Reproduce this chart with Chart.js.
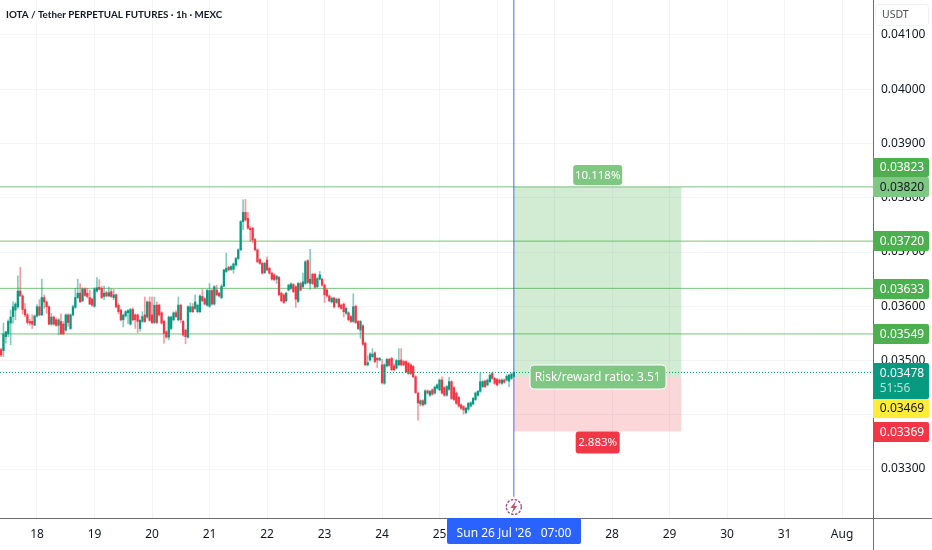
<!DOCTYPE html>
<html>
<head>
<meta charset="utf-8">
<title>IOTA / Tether</title>
<script src="https://cdn.jsdelivr.net/npm/chart.js@4/dist/chart.umd.min.js"></script>
<style>
  html, body { margin: 0; padding: 0; background: #fff; overflow: hidden; }
  canvas { display: block; filter: blur(0.3px); }
</style>
</head>
<body>
<canvas id="chart" width="932" height="550"></canvas>
<script>
// ── Data ──
// hours are counted from 18 Jul 00:00; the first candle sits at hour -15
const firstHour = -15;

const opens = [
  .03520,.03518,.03544,.03549,.03569,.03581,.03593,.03599,.03628,.03619,
  .03594,.03584,.03572,.03572,.03565,.03582,.03599,.03584,.03616,.03608,
  .03599,.03567,.03580,.03575,.03565,.03572,.03567,.03556,.03584,.03559,
  .03584,.03598,.03616,.03624,.03610,.03632,.03624,.03616,.03613,.03600,
  .03628,.03635,.03633,.03618,.03625,.03619,.03627,.03616,.03621,.03602,
  .03593,.03575,.03582,.03588,.03567,.03594,.03584,.03584,.03559,.03572,
  .03584,.03580,.03608,.03584,.03570,.03602,.03602,.03588,.03572,.03553,
  .03543,.03559,.03575,.03588,.03575,.03602,.03572,.03556,.03543,.03590,
  .03599,.03596,.03590,.03590,.03618,.03614,.03602,.03600,.03629,.03604,
  .03630,.03624,.03616,.03637,.03664,.03672,.03668,.03668,.03676,.03688,
  .03704,.03756,.03773,.03762,.03744,.03744,.03723,.03704,
  .03686,.03679,.03662,.03685,.03670,.03661,.03658,.03650,.03653,.03624,
  .03621,.03610,.03630,.03633,.03640,.03636,.03609,.03642,.03636,.03642,
  .03684,.03642,.03659,.03659,.03636,.03650,.03650,.03639,.03630,.03619,
  .03608,.03615,.03607,.03613,.03602,.03604,.03587,.03588,.03581,.03572,.03600,
  .03572,.03556,.03564,.03532,.03492,.03501,.03507,.03514,.03504,.03501,
  .03492,.03458,.03490,.03502,.03504,.03490,.03486,.03492,.03501,.03498,
  .03498,.03495,.03492,.03489,.03470,.03440,.03420,.03426,.03420,.03444,
  .03436,.03446,.03440,.03449,.03446,.03464,.03450,.03436,.03447,
  .03461,.03450,.03440,.03432,.03418,.03415,.03404,.03410,.03416,.03420,
  .03428,.03436,.03443,.03452,.03462,.03455,.03461,.03476,.03467,.03465,
  .03464,.03458,.03464,.03464,.03462,.03467,.03471
];
const closes = [
  .03510,.03549,.03553,.03572,.03580,.03599,.03604,.03628,.03619,.03594,
  .03584,.03570,.03569,.03567,.03582,.03599,.03584,.03616,.03608,.03599,
  .03567,.03580,.03567,.03565,.03575,.03549,.03549,.03584,.03570,.03584,
  .03599,.03616,.03624,.03608,.03632,.03620,.03618,.03604,.03602,.03632,
  .03634,.03631,.03616,.03624,.03619,.03625,.03618,.03621,.03599,.03590,
  .03575,.03584,.03590,.03592,.03594,.03575,.03575,.03572,.03574,.03581,
  .03572,.03608,.03574,.03570,.03602,.03570,.03584,.03569,.03550,.03543,
  .03580,.03580,.03588,.03581,.03602,.03575,.03547,.03544,.03599,.03599,
  .03590,.03608,.03602,.03619,.03610,.03604,.03629,.03629,.03604,.03636,
  .03621,.03619,.03637,.03667,.03670,.03667,.03673,.03678,.03688,.03704,
  .03756,.03773,.03759,.03744,.03741,.03722,.03704,.03682,
  .03679,.03661,.03679,.03667,.03661,.03650,.03649,.03655,.03621,.03610,
  .03607,.03624,.03639,.03641,.03627,.03613,.03642,.03630,.03645,.03682,
  .03644,.03650,.03642,.03635,.03651,.03658,.03639,.03621,.03619,.03610,
  .03615,.03599,.03613,.03599,.03596,.03590,.03596,.03575,.03572,.03599,.03570,
  .03559,.03572,.03530,.03492,.03496,.03512,.03512,.03498,.03501,.03504,
  .03459,.03492,.03502,.03491,.03483,.03483,.03500,.03500,.03492,.03492,
  .03479,.03476,.03476,.03470,.03441,.03422,.03426,.03418,.03444,.03440,
  .03443,.03438,.03451,.03455,.03464,.03440,.03436,.03452,.03461,
  .03430,.03428,.03421,.03416,.03412,.03409,.03412,.03421,.03422,.03430,
  .03440,.03443,.03461,.03461,.03452,.03464,.03473,.03467,.03458,.03455,
  .03459,.03464,.03460,.03471,.03473,.03475,.03478
];
const highs = [
  .03523,.03569,.03553,.03575,.03593,.03608,.03607,.03656,.03672,.03621,
  .03605,.03587,.03576,.03584,.03584,.03603,.03612,.03650,.03621,.03610,
  .03601,.03587,.03582,.03578,.03577,.03586,.03572,.03586,.03586,.03586,
  .03602,.03633,.03650,.03642,.03634,.03634,.03633,.03630,.03615,.03634,
  .03653,.03649,.03637,.03637,.03628,.03636,.03632,.03631,.03623,.03605,
  .03595,.03586,.03592,.03594,.03596,.03597,.03586,.03586,.03576,.03590,
  .03617,.03610,.03617,.03617,.03617,.03608,.03604,.03590,.03574,.03555,
  .03582,.03582,.03590,.03592,.03617,.03604,.03574,.03558,.03601,.03606,
  .03605,.03621,.03604,.03621,.03631,.03616,.03631,.03642,.03631,.03638,
  .03639,.03626,.03640,.03668,.03698,.03674,.03675,.03680,.03690,.03706,
  .03758,.03796,.03797,.03773,.03747,.03746,.03725,.03706,
  .03688,.03681,.03681,.03691,.03672,.03663,.03660,.03657,.03655,.03626,
  .03623,.03626,.03641,.03643,.03642,.03638,.03644,.03644,.03661,.03684,
  .03686,.03705,.03661,.03661,.03653,.03664,.03652,.03641,.03632,.03621,
  .03617,.03617,.03615,.03615,.03604,.03606,.03598,.03590,.03583,.03623,.03602,
  .03574,.03574,.03566,.03534,.03509,.03514,.03522,.03516,.03506,.03506,
  .03502,.03494,.03504,.03504,.03506,.03494,.03502,.03522,.03522,.03500,
  .03500,.03497,.03494,.03491,.03472,.03442,.03428,.03428,.03446,.03446,
  .03445,.03448,.03453,.03457,.03466,.03470,.03452,.03454,.03469,
  .03463,.03452,.03442,.03434,.03420,.03417,.03414,.03423,.03424,.03432,
  .03442,.03445,.03477,.03463,.03464,.03466,.03476,.03479,.03469,.03467,
  .03466,.03466,.03466,.03474,.03475,.03477,.03479
];
const lows = [
  .03507,.03507,.03532,.03544,.03529,.03569,.03575,.03596,.03618,.03586,
  .03581,.03567,.03565,.03559,.03564,.03580,.03582,.03583,.03596,.03587,
  .03566,.03565,.03565,.03563,.03547,.03548,.03548,.03554,.03563,.03557,
  .03582,.03596,.03614,.03607,.03608,.03618,.03615,.03603,.03600,.03598,
  .03626,.03630,.03614,.03612,.03617,.03617,.03616,.03612,.03597,.03586,
  .03573,.03562,.03580,.03568,.03565,.03573,.03559,.03551,.03554,.03570,
  .03570,.03578,.03572,.03568,.03568,.03568,.03582,.03567,.03532,.03541,
  .03538,.03557,.03573,.03579,.03573,.03570,.03545,.03531,.03541,.03588,
  .03588,.03594,.03588,.03588,.03608,.03602,.03600,.03598,.03602,.03602,
  .03619,.03617,.03614,.03636,.03662,.03665,.03666,.03661,.03674,.03686,
  .03702,.03741,.03757,.03742,.03720,.03717,.03702,.03680,
  .03677,.03659,.03660,.03665,.03659,.03648,.03647,.03642,.03619,.03608,
  .03605,.03608,.03628,.03631,.03625,.03598,.03607,.03628,.03634,.03640,
  .03642,.03631,.03640,.03633,.03634,.03648,.03637,.03607,.03617,.03608,
  .03606,.03597,.03605,.03597,.03594,.03580,.03585,.03573,.03570,.03570,.03568,
  .03557,.03541,.03528,.03490,.03490,.03499,.03505,.03496,.03487,.03499,
  .03457,.03456,.03488,.03489,.03481,.03481,.03484,.03490,.03490,.03490,
  .03477,.03474,.03474,.03468,.03439,.03390,.03416,.03416,.03418,.03438,
  .03434,.03436,.03438,.03447,.03444,.03438,.03434,.03434,.03445,
  .03428,.03426,.03419,.03414,.03410,.03401,.03402,.03408,.03414,.03418,
  .03426,.03434,.03441,.03450,.03450,.03453,.03459,.03465,.03456,.03453,
  .03457,.03456,.03458,.03462,.03452,.03465,.03469
];

const priceTicks = [0.033, 0.034, 0.035, 0.036, 0.037, 0.038, 0.039, 0.040, 0.041];
const dayTickHours = [0, 24, 48, 72, 96, 120, 144, 168, 192, 216, 240, 264, 288, 312, 336];
const dayTickLabels = ['18', '19', '20', '21', '22', '23', '24', '25', '26', '27', '28', '29', '30', '31', 'Aug'];

const targetLevels = [0.0382, 0.0372, 0.03633, 0.03549];
const lastPrice = 0.03478;
const entryPrice = 0.03469;
const takeProfit = 0.0382;
const stopPrice = 0.03369;
const entryHour = 199;
const positionEndHour = 269;

// ── Axis window ──
const X_MIN = -15.44, X_MAX = 348.9;
const Y_MIN = 0.032097, Y_MAX = 0.041645;

// ── Colors ──
const UP = '#089981', DOWN = '#f23645';
const UP_WICK = 'rgba(8,153,129,0.5)', DOWN_WICK = 'rgba(242,54,69,0.5)';
const LEVEL_GREEN = '#4caf50', SOFT_GREEN = '#81c784';
const TEXT = '#131722', GRID = '#f3f4f6', AXIS = '#6a6d78';
const FONT = '"Noto Sans", sans-serif';

// ── Candle datasets ──
const hours = opens.map((_, i) => firstHour + i);
const isUp = opens.map((o, i) => closes[i] >= o);

const wickData = hours.map((x, i) => ({ x, y: [lows[i], highs[i]] }));
const bodyData = hours.map((x, i) => ({ x, y: [opens[i], closes[i]] }));

function hline(y, color, extra) {
  return Object.assign({
    type: 'line',
    data: [{ x: X_MIN, y }, { x: X_MAX, y }],
    borderColor: color,
    borderWidth: 1,
    pointRadius: 0,
    order: 3
  }, extra);
}

function box(top, bottom, color) {
  return {
    type: 'line',
    data: [{ x: entryHour, y: top }, { x: positionEndHour, y: top }],
    borderWidth: 0,
    pointRadius: 0,
    backgroundColor: color,
    fill: { value: bottom },
    order: 5
  };
}

// ── Price scale tags, time tag, labels on the position ──
const priceTags = [
  { text: '0.03823', top: 158, bottom: 177, bg: LEVEL_GREEN, fg: '#fff' },
  { text: '0.03820', top: 177, bottom: 197, bg: SOFT_GREEN, fg: TEXT },
  { text: '0.03720', top: 231, bottom: 251, bg: LEVEL_GREEN, fg: '#fff' },
  { text: '0.03633', top: 279, bottom: 299, bg: LEVEL_GREEN, fg: '#fff' },
  { text: '0.03549', top: 324, bottom: 344, bg: LEVEL_GREEN, fg: '#fff' },
  { text: '0.03469', top: 399, bottom: 418, bg: '#ffeb3b', fg: TEXT },
  { text: '0.03369', top: 422, bottom: 442, bg: DOWN, fg: '#fff' }
];

function roundRect(ctx, x, y, w, h, r) {
  ctx.beginPath();
  ctx.roundRect(x, y, w, h, r);
}

function centerText(ctx, text, x, y, color, font) {
  ctx.fillStyle = color;
  ctx.font = font;
  ctx.textAlign = 'center';
  ctx.textBaseline = 'middle';
  ctx.fillText(text, x, y);
}

const overlay = {
  id: 'overlay',
  afterDraw(chart) {
    const { ctx, scales: { x, y } } = chart;
    const axisX = chart.chartArea.right, axisY = chart.chartArea.bottom;
    ctx.save();

    // axis frame
    ctx.strokeStyle = AXIS;
    ctx.lineWidth = 1;
    ctx.beginPath();
    ctx.moveTo(0, axisY + 0.5);
    ctx.lineTo(932, axisY + 0.5);
    ctx.moveTo(axisX + 0.5, 0);
    ctx.lineTo(axisX + 0.5, 550);
    ctx.stroke();

    // title
    ctx.fillStyle = TEXT;
    ctx.font = '700 9.8px Lato, ' + FONT;
    ctx.textAlign = 'left';
    ctx.textBaseline = 'middle';
    ctx.fillText('IOTA / Tether PERPETUAL FUTURES · 1h · MEXC', 6, 14.5);

    // currency button
    ctx.strokeStyle = '#eef0f3';
    roundRect(ctx, 875.5, 4.5, 53, 21, 3);
    ctx.fillStyle = '#fff';
    ctx.fill();
    ctx.stroke();
    ctx.fillStyle = '#4a4e59';
    ctx.font = '10.5px ' + FONT;
    ctx.textAlign = 'left';
    ctx.fillText('USDT', 882, 15);

    // last price tag with countdown
    ctx.fillStyle = UP;
    roundRect(ctx, axisX, 363, 56, 36, [0, 2, 2, 0]);
    ctx.fill();
    centerText(ctx, '0.03478', axisX + 29, 373.5, '#fff', '12px ' + FONT);
    centerText(ctx, '51:56', axisX + 22, 389, '#b5e0d8', '12px ' + FONT);

    // other price tags
    priceTags.forEach(t => {
      ctx.fillStyle = t.bg;
      roundRect(ctx, axisX, t.top, 56, t.bottom - t.top, [0, 2, 2, 0]);
      ctx.fill();
      centerText(ctx, t.text, axisX + 29, (t.top + t.bottom) / 2 + 0.5, t.fg, '12px ' + FONT);
    });

    // time tag
    ctx.fillStyle = '#2962ff';
    roundRect(ctx, 447, axisY, 134, 26, 2);
    ctx.fill();
    centerText(ctx, "Sun 26 Jul '26   07:00", 514, 533.5, '#fff', '12px ' + FONT);

    // position labels
    const midX = x.getPixelForValue((entryHour + positionEndHour) / 2);
    ctx.fillStyle = SOFT_GREEN;
    roundRect(ctx, midX - 24.5, 165, 49, 20, 3);
    ctx.fill();
    centerText(ctx, '10.118%', midX, 175.5, '#fff', '11.5px ' + FONT);

    ctx.fillStyle = DOWN;
    roundRect(ctx, midX - 22, 431.5, 44, 22, 3);
    ctx.fill();
    centerText(ctx, '2.883%', midX, 443, '#fff', '11.5px ' + FONT);

    ctx.fillStyle = SOFT_GREEN;
    ctx.strokeStyle = '#fff';
    roundRect(ctx, 530, 365, 136, 24, 4);
    ctx.fill();
    ctx.stroke();
    centerText(ctx, 'Risk/reward ratio: 3.51', midX, 377.5, '#fff', '12px ' + FONT);

    // flash icon on the time axis
    const cx = x.getPixelForValue(entryHour), cy = 507;
    ctx.setLineDash([2.5, 1.5]);
    ctx.lineWidth = 1.3;
    ctx.strokeStyle = '#a03f80';
    ctx.beginPath();
    ctx.arc(cx, cy, 7.5, 0, Math.PI * 2);
    ctx.stroke();
    ctx.setLineDash([]);
    ctx.fillStyle = '#c4506a';
    ctx.beginPath();
    ctx.moveTo(cx + 2, cy - 6);
    ctx.lineTo(cx - 3.5, cy + 1);
    ctx.lineTo(cx - 0.5, cy + 1);
    ctx.lineTo(cx - 2, cy + 6);
    ctx.lineTo(cx + 3.5, cy - 1);
    ctx.lineTo(cx + 0.5, cy - 1);
    ctx.closePath();
    ctx.fill();

    ctx.restore();
  }
};

// ── Chart ──
new Chart(document.getElementById('chart'), {
  type: 'bar',
  data: {
    datasets: [
      {
        data: wickData,
        backgroundColor: isUp.map(u => u ? UP_WICK : DOWN_WICK),
        barThickness: 1,
        grouped: false,
        order: 2
      },
      {
        data: bodyData,
        backgroundColor: isUp.map(u => u ? UP : DOWN),
        barThickness: 1.6,
        grouped: false,
        order: 1
      },
      ...targetLevels.map(v => hline(v, 'rgba(76,175,80,0.75)')),
      hline(lastPrice, UP, { borderDash: [1, 2], order: 0 }),
      box(takeProfit, entryPrice, 'rgba(76,175,80,0.25)'),
      box(entryPrice, stopPrice, 'rgba(242,54,69,0.2)'),
      {
        type: 'line',
        data: [{ x: entryHour, y: Y_MAX }, { x: entryHour, y: 0.03249 }],
        borderColor: 'rgba(41,98,255,0.38)',
        borderWidth: 1,
        pointRadius: 0,
        order: 0
      }
    ]
  },
  options: {
    responsive: false,
    animation: false,
    devicePixelRatio: 1,
    layout: { padding: 0 },
    plugins: { legend: { display: false }, tooltip: { enabled: false } },
    scales: {
      x: {
        type: 'linear',
        offset: false,
        min: X_MIN,
        max: X_MAX,
        afterBuildTicks(scale) { scale.ticks = dayTickHours.map(value => ({ value })); },
        afterFit(scale) { scale.height = 32; scale.paddingLeft = 0; scale.paddingRight = 0; },
        grid: { color: GRID, offset: false, drawTicks: false },
        border: { display: false },
        ticks: {
          autoSkip: false,
          maxRotation: 0,
          padding: 9,
          color: TEXT,
          font: { family: FONT, size: 12 },
          callback: (v) => dayTickLabels[dayTickHours.indexOf(v)]
        }
      },
      y: {
        position: 'right',
        min: Y_MIN,
        max: Y_MAX,
        afterBuildTicks(scale) { scale.ticks = priceTicks.map(value => ({ value })); },
        afterFit(scale) { scale.width = 59; scale.paddingTop = 0; scale.paddingBottom = 0; },
        grid: { color: GRID, drawTicks: false },
        border: { display: false },
        ticks: {
          padding: 8,
          color: TEXT,
          font: { family: FONT, size: 12 },
          callback: (v) => v.toFixed(5)
        }
      }
    }
  },
  plugins: [overlay]
});
</script>
</body>
</html>
